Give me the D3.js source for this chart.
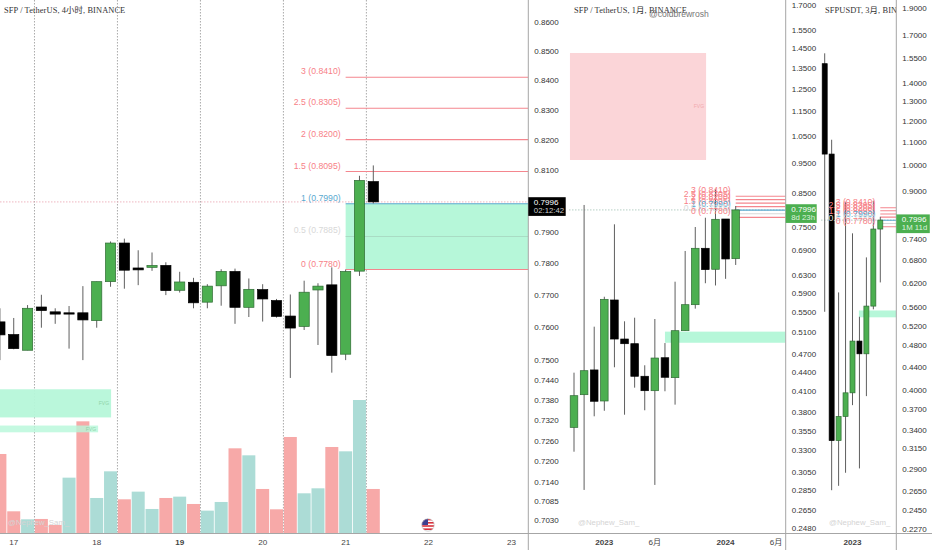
<!DOCTYPE html>
<html lang="zh-CN">
<head>
<meta charset="UTF-8">
<title>SFP / TetherUS</title>
<script src="https://cdn.jsdelivr.net/npm/d3@7/dist/d3.min.js"></script>
<style>
    * { margin: 0; padding: 0; }
    body { background: #fff; width: 932px; height: 550px; overflow: hidden; }
    svg { display: block; }
    text { font-family: 'Liberation Sans', 'Noto Sans CJK SC', sans-serif; }
    .axis text { font-size: 8px; fill: #333; }
    .title { font-family: 'Liberation Serif', 'Noto Sans CJK SC', serif; font-size: 8.4px; fill: #333; letter-spacing: 0.1px; }
    .mark { font-size: 7.8px; fill: #d4d4d4; }
    .date { font-size: 8.1px; fill: #444; text-anchor: middle; }
    .fib { font-size: 8.7px; text-anchor: end; }
</style>
</head>
<body>
<svg id="chart" width="932" height="550"></svg>
<script>
    // 4小时
    const h4Open  = [.7617,.7578,.7530,.7663,.7648,.7645,.7645,.7621,.7742,.7864,.7785,.7787,.7793,.7715,.7740,.7678,.7729,.7774,.7662,.7717,.7683,.7635,.7603,.7716,.7732,.7518,.7775,.8062];
    const h4High  = [.7659,.7629,.7669,.7701,.7659,.7666,.7728,.7742,.7869,.7878,.7841,.7834,.7803,.7773,.7754,.7734,.7781,.7783,.7752,.7734,.7688,.7702,.7745,.7737,.7787,.7780,.8081,.8115];
    const h4Low   = [.7500,.7533,.7530,.7599,.7611,.7535,.7500,.7599,.7726,.7720,.7731,.7776,.7700,.7708,.7659,.7659,.7667,.7611,.7632,.7618,.7630,.7446,.7592,.7546,.7462,.7500,.7760,.7991];
    const h4Close = [.7577,.7535,.7659,.7652,.7641,.7641,.7623,.7742,.7864,.7778,.7779,.7793,.7714,.7741,.7676,.7728,.7774,.7662,.7718,.7688,.7634,.7598,.7709,.7728,.7514,.7774,.8066,.7996];
    const h4Volume = [238,66,42,43,25,167,336,106,186,102,125,73,106,110,88,68,94,255,234,133,72,289,120,135,259,246,400,133];
    const h4VolumeUp = [0,0,1,0,0,1,0,1,1,0,1,1,0,1,0,1,1,0,1,0,0,0,1,1,0,1,1,0];
    const h4Ticks = [.86,.85,.84,.83,.82,.81,.79,.78,.77,.76,.75,.744,.738,.732,.726,.72,.714,.7085,.703];

    // 1月
    const m1Open  = [.3592,.4051,.4437,.3958,.5740,.4972,.4887,.4335,.4111,.4641,.4313,.5127,.5642,.6943,.6427,.7733,.6683];
    const m1High  = [.4393,.8143,.5203,.5809,.7584,.5307,.5378,.4514,.5352,.4899,.6140,.6875,.7509,.7770,.8627,.7733,.8113];
    const m1Low   = [.3284,.2853,.3741,.3818,.4481,.3763,.4157,.3825,.2906,.4102,.3905,.5127,.5560,.6105,.6055,.6205,.6530];
    const m1Close = [.4036,.4425,.3954,.5754,.4972,.4887,.4335,.4111,.4636,.4319,.5127,.5642,.6943,.6419,.7725,.6676,.7996];
    const m1Ticks = [1.7,1.55,1.45,1.35,1.25,1.15,1.05,.95,.85,.75,.69,.63,.59,.55,.51,.47,.44,.41,.38,.355,.33,.305,.285,.265,.248];

    // 3月
    const m3Open  = [1.5138,1.0469,.3253,.3589,.3952,.4881,.4634,.5630,.7710];
    const m3High  = [1.5792,1.1099,.5953,.8600,.7576,.5390,.6868,.8653,.8105];
    const m3Low   = [.5501,.2656,.2704,.2852,.3758,.2903,.3899,.5556,.6201];
    const m3Close = [1.0469,.3253,.3589,.3952,.4881,.4634,.5630,.7710,.7996];
    const m3Ticks = [1.9,1.7,1.55,1.4,1.3,1.2,1.1,1,.9,.74,.68,.62,.56,.52,.48,.44,.4,.37,.34,.315,.29,.265,.245,.227];

    const fibLevels = [3,2.5,2,1.5,1,.5,0];
    const fibPrices = [.841,.8305,.82,.8095,.799,.7885,.778];
    const lastPrice = .7996;

    const h4GridIdx = [2.5,8.5,14.5,20.5,26.5];
    const h4DateIdx = [1,7,13,19,25,31,37];
    const h4DateLabels = ['17','18','19','20','21','22','23'];
    const m1DateIdx = [3,8,15,20];
    const m1DateLabels = ['2023','6月','2024','6月'];
    const m3DateIdx = [4];
    const m3DateLabels = ['2023'];

    const UP = '#4caf50', UP_EDGE = '#2f6b34', DOWN = '#000', WICK = '#5f5f5f';
    const BLUE = '#5aa9cf', GREY = '#d8d8d8';
    const MINT = '#b6f7d9';

    const svg = d3.select('#chart');
    const defs = svg.append('defs');
    const fibLabelColor = l => l === 1 ? BLUE : l === .5 ? GREY : '#f77f87';

    function drawPanel(p) {
        const id = 'clip' + p.name;
        defs.append('clipPath').attr('id', id).append('rect')
            .attr('x', p.left).attr('y', 0).attr('width', p.right - p.left).attr('height', 533);
        const y = d3.scaleLog().domain(p.priceDomain).range(p.yRange);
        const x = d3.scaleLinear().domain([0, p.open.length - 1]).range(p.xRange);
        const g = svg.append('g').attr('clip-path', `url(#${id})`);

        // 竖线
        g.selectAll('.grid').data(p.gridIdx || []).enter().append('line')
            .attr('x1', d => x(d)).attr('x2', d => x(d)).attr('y1', 0).attr('y2', 533)
            .attr('stroke', '#aaa').attr('stroke-dasharray', '1.5 1.5');

        // 成交量
        if (p.volume) {
            const v = d3.scaleLinear().domain([0, 400]).range([533.3, 400]);
            g.selectAll('.vol').data(p.volume).enter().append('rect')
                .attr('x', (d, i) => x(i) - 6.5).attr('width', 13)
                .attr('y', d => v(d)).attr('height', d => 533.3 - v(d))
                .attr('fill', (d, i) => p.volumeUp[i] ? '#acdcd6' : '#f7a9a8');
        }

        // FVG 方框
        (p.boxes || []).forEach(b => {
            const x0 = x(b.from), x1 = b.to === null ? p.right : x(b.to);
            g.append('rect').attr('x', x0).attr('width', x1 - x0)
                .attr('y', y(b.hi)).attr('height', y(b.lo) - y(b.hi))
                .attr('fill', b.fill).attr('fill-opacity', b.opacity || 1);
            if (b.label) g.append('text').attr('x', x1 - 2).attr('y', (y(b.hi) + y(b.lo)) / 2 + 2)
                .attr('text-anchor', 'end').attr('font-size', 5).attr('fill', b.labelFill).text(b.label);
        });

        // 现价虚线
        g.append('line').attr('x1', p.left).attr('x2', p.right)
            .attr('y1', y(lastPrice)).attr('y2', y(lastPrice))
            .attr('stroke', p.lastLine).attr('stroke-dasharray', '1.5 1.5');

        // 斐波那契线
        const fx = x(p.fibFrom);
        fibPrices.forEach((price, i) => {
            const l = fibLevels[i];
            g.append('line').attr('x1', fx).attr('x2', p.right)
                .attr('y1', y(price)).attr('y2', y(price)).attr('stroke-width', 1.1)
                .attr('stroke', l === 1 ? BLUE : l === .5 ? p.midLine : '#f4868e');
        });

        // K线
        const c = g.selectAll('.candle').data(p.open).enter().append('g');
        c.append('line').attr('x1', (d, i) => x(i)).attr('x2', (d, i) => x(i))
            .attr('y1', (d, i) => y(p.high[i])).attr('y2', (d, i) => y(p.low[i]))
            .attr('stroke', WICK);
        c.append('rect')
            .attr('x', (d, i) => x(i) - p.bodyW / 2).attr('width', p.bodyW)
            .attr('y', (d, i) => y(Math.max(d, p.close[i])))
            .attr('height', (d, i) => Math.max(1, Math.abs(y(d) - y(p.close[i]))))
            .attr('fill', (d, i) => p.close[i] >= d ? UP : DOWN)
            .attr('stroke', (d, i) => p.close[i] >= d ? UP_EDGE : DOWN)
            .attr('stroke-width', .7);

        // 斐波那契文字
        fibPrices.forEach((price, i) => {
            const l = fibLevels[i];
            g.append('text').attr('class', 'fib').attr('x', fx - 5).attr('y', y(price) - 3)
                .attr('fill', fibLabelColor(l)).text(`${l} (${price.toFixed(4)})`);
        });

        // 标题和水印
        g.append('text').attr('class', 'title').attr('x', p.titleX).attr('y', 13.3).text(p.title);
        g.append('text').attr('class', 'mark').attr('x', p.markX).attr('y', 524.5).text('@Nephew_Sam_');

        // 价格轴
        svg.append('g').attr('class', 'axis').attr('transform', `translate(${p.right},0)`)
            .call(d3.axisRight(y).tickValues(p.ticks).tickSize(0).tickPadding(6).tickFormat(d3.format('.4f')))
            .call(a => a.select('.domain').remove());
        svg.append('line').attr('x1', p.right).attr('x2', p.right).attr('y1', 0).attr('y2', 550)
            .attr('stroke', '#a6a6a6');

        // 现价框
        const top = y(lastPrice) - p.tagUp;
        svg.append('rect').attr('x', p.right).attr('y', top).attr('width', p.tagW).attr('height', 18.7)
            .attr('fill', p.tagFill);
        svg.append('text').attr('x', p.right + 5.5).attr('y', top + 7.8).attr('font-size', 8.1)
            .attr('fill', '#fff').text(d3.format('.4f')(lastPrice));
        svg.append('text').attr('x', p.right + 5.5).attr('y', top + 16).attr('font-size', 7.8)
            .attr('fill', p.tagSub).text(p.tagText);

        // 日期
        p.dateIdx.forEach((d, i) => {
            const isBold = p.dateLabels[i].length === 4 || p.dateLabels[i] === '19';
            svg.append('text').attr('class', 'date').attr('x', x(d)).attr('y', 544.5)
                .attr('font-weight', isBold ? 700 : 400).text(p.dateLabels[i]);
        });
    }

    drawPanel({
        name: 'h4', title: 'SFP / TetherUS, 4小时, BINANCE', titleX: 4, markX: 8,
        left: 0, right: 528.3, xRange: [-0.1, 373.3], bodyW: 10.2,
        priceDomain: [.86, .703], yRange: [22, 520],
        open: h4Open, high: h4High, low: h4Low, close: h4Close, ticks: h4Ticks,
        volume: h4Volume, volumeUp: h4VolumeUp, gridIdx: h4GridIdx,
        dateIdx: h4DateIdx, dateLabels: h4DateLabels, fibFrom: 25, midLine: '#a9dcc4',
        boxes: [
            { from: 25, to: null, hi: .799, lo: .778, fill: MINT },
            { from: -1, to: 8.04, hi: .7412, lo: .7328, fill: MINT, opacity: .95, label: 'FVG', labelFill: '#8fd3a8' },
            { from: -1, to: 7.1, hi: .7304, lo: .7284, fill: MINT, opacity: .8, label: 'FVG', labelFill: '#8fd3a8' }
        ],
        lastLine: '#eeb6c0', tagFill: '#000', tagSub: '#ccc', tagUp: 4.7, tagW: 37.4, tagText: '02:12:42'
    });

    drawPanel({
        name: 'm1', title: 'SFP / TetherUS, 1月, BINANCE', titleX: 574, markX: 578,
        left: 569, right: 785.7, xRange: [574, 735.7], bodyW: 7.6,
        priceDomain: [1.7, .248], yRange: [5, 528],
        open: m1Open, high: m1High, low: m1Low, close: m1Close, ticks: m1Ticks,
        dateIdx: m1DateIdx, dateLabels: m1DateLabels, fibFrom: 16, midLine: GREY,
        boxes: [
            { from: -0.4, to: 13.07, hi: 1.4246, lo: .961, fill: '#fbd5d8', label: 'FVG', labelFill: '#f2a9ae' },
            { from: 9, to: null, hi: .5109, lo: .4904, fill: MINT }
        ],
        lastLine: '#b5cfc5', tagFill: UP, tagSub: '#dcf2dd', tagUp: 5.7, tagW: 31, tagText: '8d 23h'
    });

    drawPanel({
        name: 'm3', title: 'SFPUSDT, 3月, BINANCE', titleX: 825, markX: 829,
        left: 821, right: 896.3, xRange: [824.7, 880.3], bodyW: 5,
        priceDomain: [1.9, .227], yRange: [8, 528.7],
        open: m3Open, high: m3High, low: m3Low, close: m3Close, ticks: m3Ticks,
        dateIdx: m3DateIdx, dateLabels: m3DateLabels, fibFrom: 8, midLine: GREY,
        boxes: [
            { from: 4.92, to: null, hi: .553, lo: .5378, fill: MINT }
        ],
        lastLine: '#b5cfc5', tagFill: UP, tagSub: '#dcf2dd', tagUp: 5.7, tagW: 33.5, tagText: '1M 11d'
    });

    // 底部横线
    svg.append('line').attr('x1', 0).attr('x2', 932).attr('y1', 533.5).attr('y2', 533.5)
        .attr('stroke', '#a6a6a6');

    svg.append('text').attr('x', 649).attr('y', 17).attr('font-size', 8.6).attr('fill', '#777')
        .text('@coldbrewrosh');

    // 美国旗图标
    const flag = svg.append('g').attr('transform', 'translate(428,525)');
    defs.append('clipPath').attr('id', 'flagClip').append('circle').attr('r', 6.2);
    const fg = flag.append('g').attr('clip-path', 'url(#flagClip)');
    fg.append('rect').attr('x', -7).attr('y', -7).attr('width', 14).attr('height', 14).attr('fill', '#fff');
    d3.range(4).forEach(i => {
        fg.append('rect').attr('x', -7).attr('y', -6.2 + i * 3.2).attr('width', 14).attr('height', 1.6).attr('fill', '#d8323c');
    });
    fg.append('rect').attr('x', -7).attr('y', -7).attr('width', 7).attr('height', 7).attr('fill', '#3c3f8f');
    flag.append('circle').attr('r', 6.2).attr('fill', 'none').attr('stroke', '#bbb').attr('stroke-width', .6);
</script>
</body>
</html>
